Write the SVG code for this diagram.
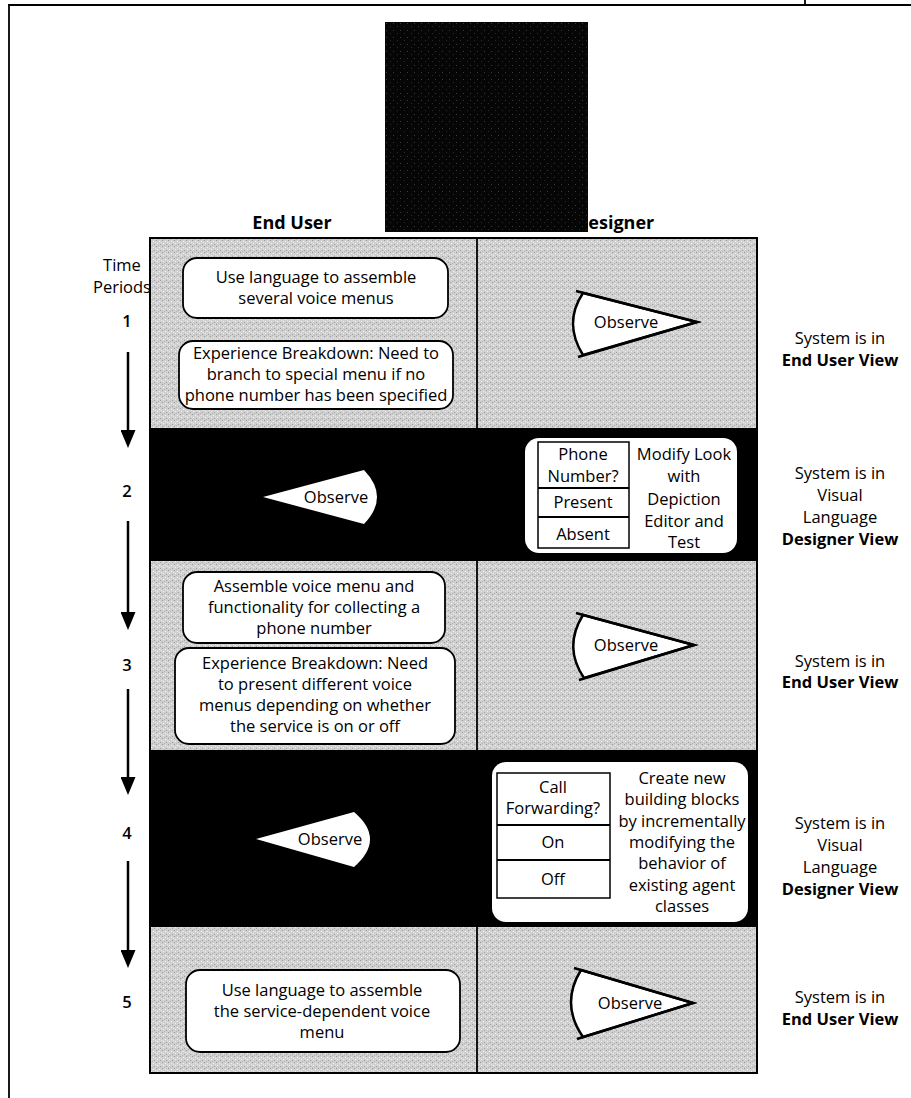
<svg xmlns="http://www.w3.org/2000/svg" width="911" height="1098" viewBox="0 0 911 1098">
<style>
text { font-family: "Open Sans", "Noto Sans", "Liberation Sans", sans-serif; font-size: 16.5px; fill: #000; }
.b { font-weight: 700; }
.c { text-anchor: middle; }
.num { font-weight: 600; text-anchor: middle; }
.box { fill: #fff; stroke: #000; stroke-width: 1.8; }
.gray { fill: url(#stipple); }
.blk { fill: #000; }
.obs { fill: #fff; stroke: #000; stroke-width: 2.5; stroke-linejoin: miter; }
.edge { fill: none; stroke: #000; stroke-width: 2.5; }
.wt { fill: #fff; }
.tbl { fill: #fff; stroke: #000; stroke-width: 1.5; }
.ln { stroke: #000; stroke-width: 1.8; }
.arr { stroke: #000; stroke-width: 2.5; fill: none; }
</style>
<defs>
<pattern id="stipple" width="6" height="6" patternUnits="userSpaceOnUse">
<rect width="6" height="6" fill="#d0d0d0"/>
<rect x="0" y="0" width="1" height="1" fill="#9a9a9a"/>
<rect x="3" y="1" width="1" height="1" fill="#f2f2f2"/>
<rect x="1" y="3" width="1" height="1" fill="#f2f2f2"/>
<rect x="4" y="4" width="1" height="1" fill="#a0a0a0"/>
<rect x="2" y="5" width="1" height="1" fill="#b4b4b4"/>
<rect x="5" y="2" width="1" height="1" fill="#e6e6e6"/>
</pattern>
<pattern id="speck" width="7" height="7" patternUnits="userSpaceOnUse">
<rect width="7" height="7" fill="#060606"/>
<rect x="1" y="2" width="1" height="1" fill="#3c3c3c"/>
<rect x="5" y="5" width="1" height="1" fill="#2a2a2a"/>
</pattern>
<marker id="ah" viewBox="0 0 18 15" refX="8" refY="7.5" markerWidth="18" markerHeight="15" markerUnits="userSpaceOnUse" orient="auto">
<path d="M0,0 L18,7.5 L0,15 Z" fill="#000"/>
</marker>
</defs>

<g id="frame">
<line class="ln" x1="8" y1="5" x2="911" y2="5" stroke-width="1.5"/>
<line class="ln" x1="9" y1="5" x2="9" y2="1098" stroke-width="1.5"/>
<line class="ln" x1="805" y1="0" x2="805" y2="5" stroke-width="1.5"/>
</g>

<g id="headers">
<text class="b c" x="292" y="229" style="font-size:18px">End User</text>
<text class="b" x="575" y="229" style="font-size:18px">Designer</text>
</g>
<rect id="photo" x="385" y="22" width="203" height="210" fill="url(#speck)"/>

<g id="grid">
<rect class="gray" x="150" y="238" width="607" height="190"/>
<rect class="blk" x="150" y="428" width="607" height="133"/>
<rect class="gray" x="150" y="561" width="607" height="189"/>
<rect class="blk" x="150" y="750" width="607" height="177"/>
<rect class="gray" x="150" y="927" width="607" height="146"/>
<rect x="150" y="238" width="607" height="835" fill="none" stroke="#000" stroke-width="2"/>
<line class="ln" x1="477" y1="238" x2="477" y2="428"/>
<line class="ln" x1="477" y1="561" x2="477" y2="750"/>
<line class="ln" x1="477" y1="927" x2="477" y2="1073"/>
</g>

<g id="time-labels">
<text class="c" x="122" y="271">Time</text>
<text class="c" x="122" y="293">Periods</text>
<text class="num" x="127" y="327">1</text>
<text class="num" x="127" y="497">2</text>
<text class="num" x="127" y="671">3</text>
<text class="num" x="127" y="839">4</text>
<text class="num" x="127" y="1008">5</text>
</g>

<g id="connectors">
<line class="arr" x1="128" y1="352" x2="128" y2="438" marker-end="url(#ah)"/>
<line class="arr" x1="128" y1="521" x2="128" y2="620" marker-end="url(#ah)"/>
<line class="arr" x1="128" y1="689" x2="128" y2="785" marker-end="url(#ah)"/>
<line class="arr" x1="128" y1="861" x2="128" y2="958" marker-end="url(#ah)"/>
</g>

<g id="n1-use-language">
<rect class="box" x="183" y="258" width="265" height="60" rx="14"/>
<text class="c" x="316" y="283">Use language to assemble</text>
<text class="c" x="316" y="304">several voice menus</text>
</g>
<g id="n1-breakdown">
<rect class="box" x="179" y="341" width="274" height="68" rx="14"/>
<text class="c" x="316" y="359">Experience Breakdown: Need to</text>
<text class="c" x="316" y="380">branch to special menu if no</text>
<text class="c" x="316" y="401">phone number has been specified</text>
</g>
<g id="n1-observe">
<path class="obs" d="M697,322 L583,293 Q563,323 583,355 Z"/>
<path class="edge" d="M576,291 L697,322 L578,357"/>
<text class="c" x="626" y="328">Observe</text>
</g>
<g id="n1-view">
<text class="c" x="840" y="344">System is in</text>
<text class="b c" x="840" y="366">End User View</text>
</g>

<g id="n2-observe">
<path class="wt" d="M263,497 L364,470 Q390,497 364,524 Z"/>
<text class="c" x="336" y="503">Observe</text>
</g>
<g id="n2-depiction">
<rect class="wt" x="525" y="438" width="212" height="115" rx="14"/>
<rect class="tbl" x="538" y="442" width="91" height="106"/>
<line class="ln" x1="538" y1="488" x2="629" y2="488" stroke-width="1.5"/>
<line class="ln" x1="538" y1="517" x2="629" y2="517" stroke-width="1.5"/>
<text class="c" x="583" y="460">Phone</text>
<text class="c" x="583" y="482">Number?</text>
<text class="c" x="583" y="508">Present</text>
<text class="c" x="583" y="540">Absent</text>
<text class="c" x="684" y="460">Modify Look</text>
<text class="c" x="684" y="482">with</text>
<text class="c" x="684" y="505">Depiction</text>
<text class="c" x="684" y="527">Editor and</text>
<text class="c" x="684" y="548">Test</text>
</g>
<g id="n2-view">
<text class="c" x="840" y="479">System is in</text>
<text class="c" x="840" y="501">Visual</text>
<text class="c" x="840" y="523">Language</text>
<text class="b c" x="840" y="545">Designer View</text>
</g>

<g id="n3-assemble">
<rect class="box" x="183" y="572" width="262" height="71" rx="14"/>
<text class="c" x="314" y="592">Assemble voice menu and</text>
<text class="c" x="314" y="613">functionality for collecting a</text>
<text class="c" x="314" y="634">phone number</text>
</g>
<g id="n3-breakdown">
<rect class="box" x="175" y="648" width="280" height="96" rx="14"/>
<text class="c" x="315" y="669">Experience Breakdown: Need</text>
<text class="c" x="315" y="690">to present different voice</text>
<text class="c" x="315" y="711">menus depending on whether</text>
<text class="c" x="315" y="732">the service is on or off</text>
</g>
<g id="n3-observe">
<path class="obs" d="M694,645 L583,615 Q563,647 584,678 Z"/>
<path class="edge" d="M576,613 L694,645 L579,680"/>
<text class="c" x="626" y="651">Observe</text>
</g>
<g id="n3-view">
<text class="c" x="840" y="667">System is in</text>
<text class="b c" x="840" y="688">End User View</text>
</g>

<g id="n4-observe">
<path class="wt" d="M256,839 L354,812 Q386,839 354,867 Z"/>
<text class="c" x="330" y="845">Observe</text>
</g>
<g id="n4-building-blocks">
<rect class="wt" x="492" y="762" width="256" height="160" rx="14"/>
<rect class="tbl" x="497" y="773" width="113" height="125"/>
<line class="ln" x1="497" y1="825" x2="610" y2="825" stroke-width="1.5"/>
<line class="ln" x1="497" y1="860" x2="610" y2="860" stroke-width="1.5"/>
<text class="c" x="553" y="793">Call</text>
<text class="c" x="553" y="814">Forwarding?</text>
<text class="c" x="553" y="848">On</text>
<text class="c" x="553" y="885">Off</text>
<text class="c" x="682" y="784">Create new</text>
<text class="c" x="682" y="805">building blocks</text>
<text class="c" x="682" y="827">by incrementally</text>
<text class="c" x="682" y="848">modifying the</text>
<text class="c" x="682" y="869">behavior of</text>
<text class="c" x="682" y="891">existing agent</text>
<text class="c" x="682" y="912">classes</text>
</g>
<g id="n4-view">
<text class="c" x="840" y="829">System is in</text>
<text class="c" x="840" y="851">Visual</text>
<text class="c" x="840" y="873">Language</text>
<text class="b c" x="840" y="895">Designer View</text>
</g>

<g id="n5-use-language">
<rect class="box" x="186" y="970" width="274" height="82" rx="14"/>
<text class="c" x="322" y="996">Use language to assemble</text>
<text class="c" x="322" y="1017">the service-dependent voice</text>
<text class="c" x="322" y="1038">menu</text>
</g>
<g id="n5-observe">
<path class="obs" d="M693,1003 L581,970 Q560,1004 583,1037 Z"/>
<path class="edge" d="M574,968 L693,1003 L577,1039"/>
<text class="c" x="630" y="1009">Observe</text>
</g>
<g id="n5-view">
<text class="c" x="840" y="1003">System is in</text>
<text class="b c" x="840" y="1025">End User View</text>
</g>
</svg>
